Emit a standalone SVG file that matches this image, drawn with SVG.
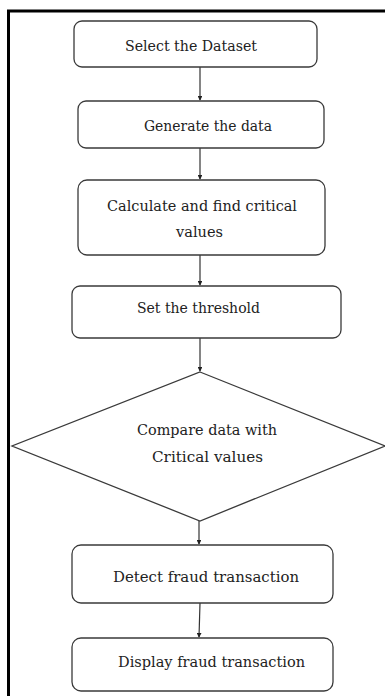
<svg xmlns="http://www.w3.org/2000/svg" width="385" height="696" viewBox="0 0 385 696">
<style>
.box{fill:#fff;stroke:#3a3a3a;stroke-width:1.3}
.t{font-family:'DejaVu Serif',serif;font-size:15.5px;fill:#222;text-anchor:middle}
.c{stroke:#333;stroke-width:1.2;fill:none;marker-end:url(#ah)}
</style>
<defs>
<marker id="ah" viewBox="0 0 6 6" refX="5" refY="3" markerWidth="4" markerHeight="4" orient="auto" markerUnits="strokeWidth">
<path d="M0,0 L6,3 L0,6 z" fill="#222"/>
</marker>
</defs>
<rect width="385" height="696" fill="#fff"/>
<rect x="8.5" y="11" width="400" height="700" fill="none" stroke="#000" stroke-width="3"/>
<g id="connectors">
<line class="c" x1="200" y1="67" x2="200" y2="100"/>
<line class="c" x1="200" y1="148" x2="200" y2="179"/>
<line class="c" x1="200" y1="255" x2="200" y2="285"/>
<line class="c" x1="200" y1="338" x2="200" y2="371"/>
<line class="c" x1="199" y1="521" x2="199" y2="544"/>
<line class="c" x1="200" y1="603" x2="199" y2="637"/>
</g>
<g id="n1">
<rect class="box" x="74" y="21" width="243" height="46" rx="8"/>
<text class="t" x="191" y="51" textLength="132" lengthAdjust="spacingAndGlyphs">Select the Dataset</text>
</g>
<g id="n2">
<rect class="box" x="78" y="101" width="246" height="47" rx="8"/>
<text class="t" x="208" y="131" textLength="128" lengthAdjust="spacingAndGlyphs">Generate the data</text>
</g>
<g id="n3">
<rect class="box" x="78" y="180" width="247" height="75" rx="9"/>
<text class="t" x="202" y="211" textLength="190" lengthAdjust="spacingAndGlyphs">Calculate and find critical</text>
<text class="t" x="199.5" y="237" textLength="47" lengthAdjust="spacingAndGlyphs">values</text>
</g>
<g id="n4">
<rect class="box" x="72" y="286" width="269" height="52" rx="8"/>
<text class="t" x="198.5" y="313" textLength="123" lengthAdjust="spacingAndGlyphs">Set the threshold</text>
</g>
<g id="n5">
<polygon class="box" points="200,372 385,446 200,521 12,446"/>
<text class="t" x="207" y="435" textLength="140" lengthAdjust="spacingAndGlyphs">Compare data with</text>
<text class="t" x="207.5" y="462" textLength="111" lengthAdjust="spacingAndGlyphs">Critical values</text>
</g>
<g id="n6">
<rect class="box" x="72" y="545" width="261" height="58" rx="9"/>
<text class="t" x="206" y="582" textLength="186" lengthAdjust="spacingAndGlyphs">Detect fraud transaction</text>
</g>
<g id="n7">
<rect class="box" x="72" y="638" width="261" height="53" rx="9"/>
<text class="t" x="211.5" y="667" textLength="187" lengthAdjust="spacingAndGlyphs">Display fraud transaction</text>
</g>
</svg>
